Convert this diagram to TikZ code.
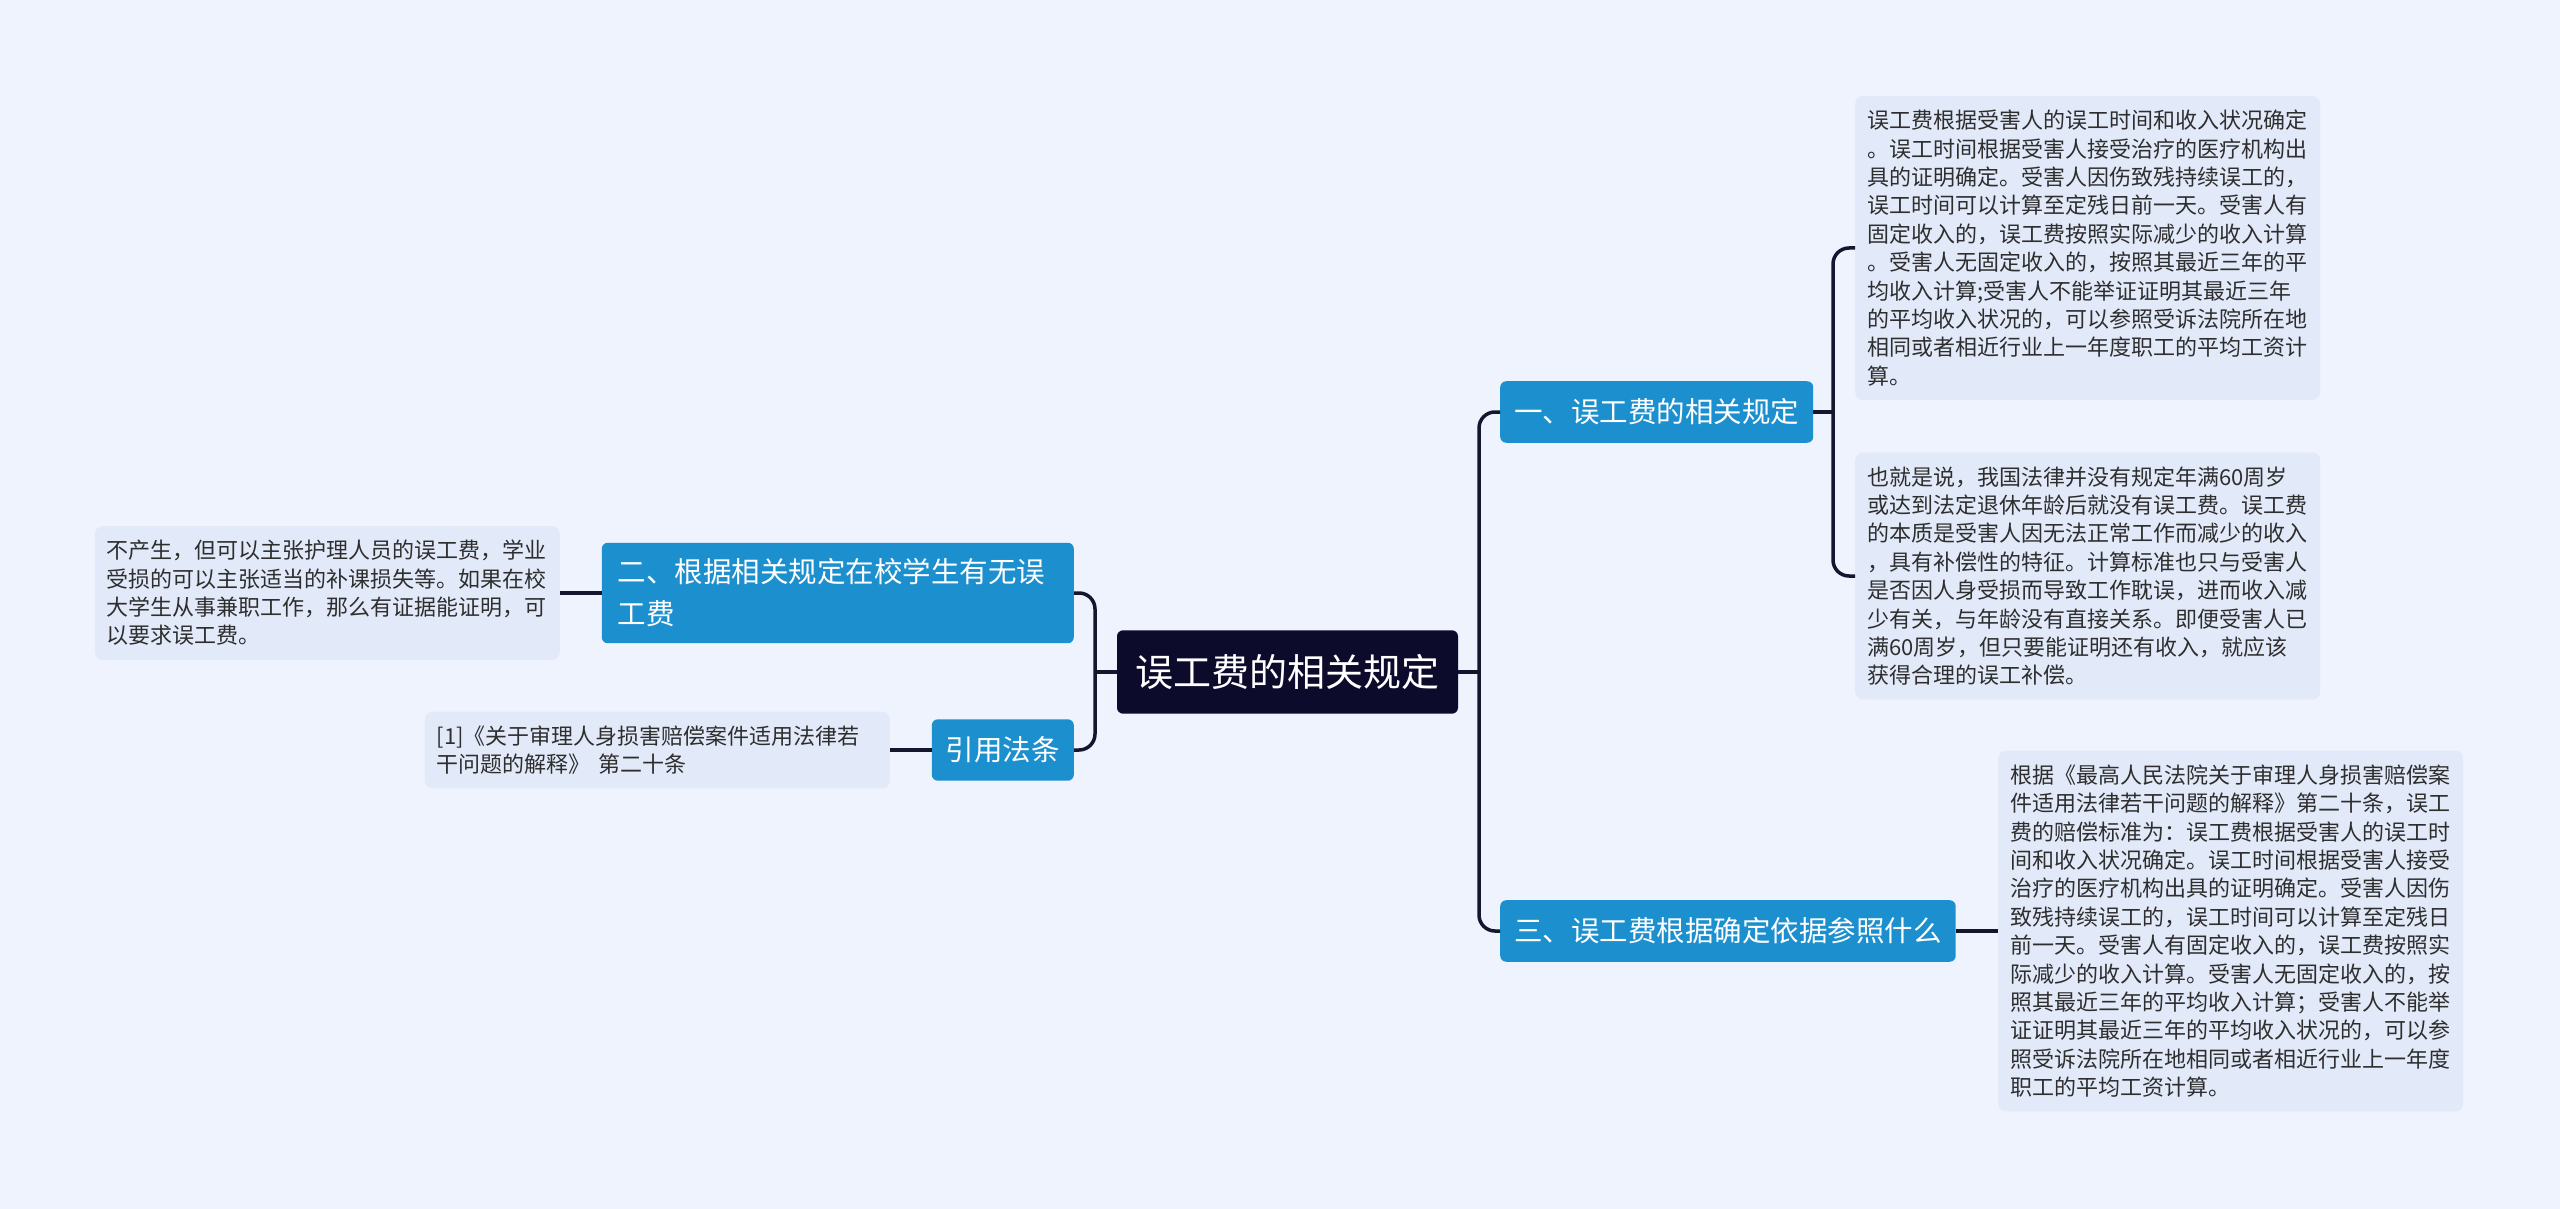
\documentclass[tikz,border=0pt]{standalone}
\usepackage{fontspec}
\setmainfont{Noto Sans CJK SC}
\definecolor{bgc}{HTML}{EEF3FD}
\definecolor{rootc}{HTML}{0D0B2C}
\definecolor{branchc}{HTML}{1C8FCF}
\definecolor{leafc}{HTML}{E2EAFA}
\definecolor{linkc}{HTML}{16152E}
\definecolor{textc}{HTML}{2E2E2E}

\begin{document}
\begin{tikzpicture}[x=1pt,y=-1pt,
    rootbox/.style={fill=rootc,text=white,rounded corners=6pt,inner xsep=18.5pt,inner ysep=24pt,font=\fontsize{38}{44}\selectfont},
    branchbox/.style={fill=branchc,text=white,rounded corners=6pt,inner xsep=14pt,inner ysep=17.5pt,font=\fontsize{28.5}{42}\selectfont},
    leafbox/.style={fill=leafc,text=textc,rounded corners=8pt,inner xsep=12pt,inner ysep=14pt,text width=441pt,align=left,font=\fontsize{22}{28.4}\selectfont},
    link/.style={draw=linkc,line width=3.5pt,rounded corners=16pt}]

            % background
            \fill[bgc] (0,0) rectangle (2560,1209);
            \useasboundingbox (0,0) rectangle (2560,1209);

            % root
            \node[rootbox] (root) at (1287.5,672) {误工费的相关规定};

            % right branches
            \node[branchbox,anchor=west] (b1) at (1500,412) {一、误工费的相关规定};
            \node[branchbox,anchor=west] (b3) at (1500,931) {三、误工费根据确定依据参照什么};

            % left branches
            \node[branchbox,anchor=east,text width=440pt,align=left,inner xsep=16pt,inner ysep=16pt] (b2) at (1074,593) {二、根据相关规定在校学生有无误\\工费};
            \node[branchbox,anchor=east] (cite) at (1074,750) {引用法条};

            % leaves of b1
            \node[leafbox,anchor=west] (l1) at (1855,248) {误工费根据受害人的误工时间和收入状况确定\\。误工时间根据受害人接受治疗的医疗机构出\\具的证明确定。受害人因伤致残持续误工的，\\误工时间可以计算至定残日前一天。受害人有\\固定收入的，误工费按照实际减少的收入计算\\。受害人无固定收入的，按照其最近三年的平\\均收入计算;受害人不能举证证明其最近三年\\的平均收入状况的，可以参照受诉法院所在地\\相同或者相近行业上一年度职工的平均工资计\\算。};
            \node[leafbox,anchor=west] (l2) at (1855,576) {也就是说，我国法律并没有规定年满60周岁\\或达到法定退休年龄后就没有误工费。误工费\\的本质是受害人因无法正常工作而减少的收入\\，具有补偿性的特征。计算标准也只与受害人\\是否因人身受损而导致工作耽误，进而收入减\\少有关，与年龄没有直接关系。即便受害人已\\满60周岁，但只要能证明还有收入，就应该\\获得合理的误工补偿。};

            % leaf of b3
            \node[leafbox,anchor=west] (l3) at (1998,931) {根据《最高人民法院关于审理人身损害赔偿案\\件适用法律若干问题的解释》第二十条，误工\\费的赔偿标准为：误工费根据受害人的误工时\\间和收入状况确定。误工时间根据受害人接受\\治疗的医疗机构出具的证明确定。受害人因伤\\致残持续误工的，误工时间可以计算至定残日\\前一天。受害人有固定收入的，误工费按照实\\际减少的收入计算。受害人无固定收入的，按\\照其最近三年的平均收入计算；受害人不能举\\证证明其最近三年的平均收入状况的，可以参\\照受诉法院所在地相同或者相近行业上一年度\\职工的平均工资计算。};

            % leaves on the left
            \node[leafbox,anchor=east] (ll) at (560,593) {不产生，但可以主张护理人员的误工费，学业\\受损的可以主张适当的补课损失等。如果在校\\大学生从事兼职工作，那么有证据能证明，可\\以要求误工费。};
            \node[leafbox,anchor=east] (lc) at (890,750) {[1]《关于审理人身损害赔偿案件适用法律若\\干问题的解释》 第二十条};

            % trunks
            \coordinate (rt) at (1479,672);
            \coordinate (lt) at (1095,672);
            \coordinate (b1t) at (1833,412);

            % links
            \draw[link] (root.east) -- (rt);
            \draw[link] (rt) |- (b1.west);
            \draw[link] (rt) |- (b3.west);
            \draw[link] (root.west) -- (lt);
            \draw[link] (lt) |- (b2.east);
            \draw[link] (lt) |- (cite.east);
            \draw[link] (b1.east) -- (b1t);
            \draw[link] (b1t) |- (l1.west);
            \draw[link] (b1t) |- (l2.west);
            \draw[link] (b3.east) -- (l3.west);
            \draw[link] (b2.west) -- (ll.east);
            \draw[link] (cite.west) -- (lc.east);

        \end{tikzpicture}
\end{document}
